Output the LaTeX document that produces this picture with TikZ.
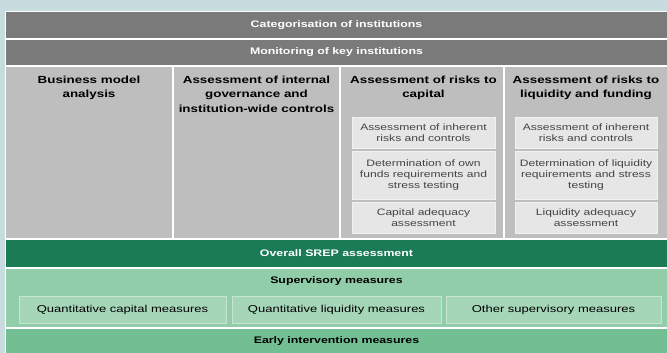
\documentclass[tikz,border=0pt]{standalone}
\usepackage{fontspec}
\setmainfont{Liberation Sans}[FakeStretch=1.3]
\definecolor{bgblue}{HTML}{C8DCE0}
\definecolor{darkgray}{HTML}{7A7A7A}
\definecolor{colgray}{HTML}{BEBEBE}
\definecolor{innerbox}{HTML}{E6E6E6}
\definecolor{innerline}{HTML}{F2F2F2}
\definecolor{darkgreen}{HTML}{1A7B55}
\definecolor{lightgreen}{HTML}{91CDA9}
\definecolor{subgreen}{HTML}{A5D6B8}
\definecolor{subline}{HTML}{C6E6D2}
\definecolor{earlygreen}{HTML}{72BF94}
\definecolor{innertext}{HTML}{444444}
\tikzset{
  x=1pt, y=-1pt,
  base/.style={inner sep=0pt, outer sep=0pt, align=center},
  grayband/.style={base, fill=darkgray, text=white, font=\fontsize{9.5}{11}\selectfont\bfseries, minimum width=661pt},
  colbox/.style={base, fill=colgray, minimum height=171pt},
  coltitle/.style={base, anchor=north, font=\fontsize{10.3}{14.5}\selectfont\bfseries},
  innerbx/.style={base, fill=innerbox, draw=innerline, line width=0.8pt, text=innertext, font=\fontsize{9.3}{11.3}\selectfont},
  greenband/.style={base, fill=darkgreen, text=white, font=\fontsize{9.5}{11}\selectfont\bfseries, minimum width=661pt},
  subbx/.style={base, fill=subgreen, draw=subline, line width=0.8pt, minimum height=27pt, font=\fontsize{10}{12}\selectfont},
  boldlabel/.style={base, font=\fontsize{9.5}{11}\selectfont\bfseries}
}
\begin{document}
\begin{tikzpicture}
\useasboundingbox (0,0) rectangle (667,353);
\fill[bgblue] (0,0) rectangle (667,353);
\fill[white] (5,11) rectangle (667,353);
% header bands
\node[grayband, minimum height=26pt] (cat) at (336.5,25) {Categorisation of institutions};
\node[grayband, minimum height=25pt] (mon) at (336.5,52.5) {Monitoring of key institutions};
% columns
\node[colbox, minimum width=166pt] (c1) at (89,152.5) {};
\node[colbox, minimum width=165pt] (c2) at (256.5,152.5) {};
\node[colbox, minimum width=162pt] (c3) at (422,152.5) {};
\node[colbox, minimum width=162pt] (c4) at (586,152.5) {};
\node[coltitle] (t1) at (89,76) {Business model\\analysis};
\node[coltitle] (t2) at (256.5,76) {Assessment of internal\\governance and\\institution-wide controls};
\node[coltitle] (t3) at (423.5,76) {Assessment of risks to\\capital};
\node[coltitle] (t4) at (586,76) {Assessment of risks to\\liquidity and funding};
% inner boxes column 3
\node[innerbx, minimum width=143pt, minimum height=31pt] (a1) at (423.5,132.5) {Assessment of inherent\\risks and controls};
\node[innerbx, minimum width=143pt, minimum height=48pt] (a2) at (423.5,175) {Determination of own\\funds requirements and\\stress testing};
\node[innerbx, minimum width=143pt, minimum height=31pt] (a3) at (423.5,217.5) {Capital adequacy\\assessment};
% inner boxes column 4
\node[innerbx, minimum width=142pt, minimum height=31pt] (b1) at (586,132.5) {Assessment of inherent\\risks and controls};
\node[innerbx, minimum width=142pt, minimum height=48pt] (b2) at (586,175) {Determination of liquidity\\requirements and stress\\testing};
\node[innerbx, minimum width=142pt, minimum height=31pt] (b3) at (586,217.5) {Liquidity adequacy\\assessment};
% green part
\node[greenband, minimum height=27pt] (srep) at (336.5,253.5) {Overall SREP assessment};
\node[base, fill=lightgreen, minimum width=661pt, minimum height=58pt] (sup) at (336.5,298) {};
\node[boldlabel] (supt) at (336.5,281) {Supervisory measures};
\node[subbx, minimum width=207pt] (m1) at (122.5,309.5) {Quantitative capital measures};
\node[subbx, minimum width=209pt] (m2) at (336.5,309.5) {Quantitative liquidity measures};
\node[subbx, minimum width=215pt] (m3) at (553.5,309.5) {Other supervisory measures};
\node[base, fill=earlygreen, minimum width=661pt, minimum height=24pt, font=\fontsize{9.5}{11}\selectfont\bfseries] (early) at (336.5,341) {Early intervention measures};
\end{tikzpicture}
\end{document}
